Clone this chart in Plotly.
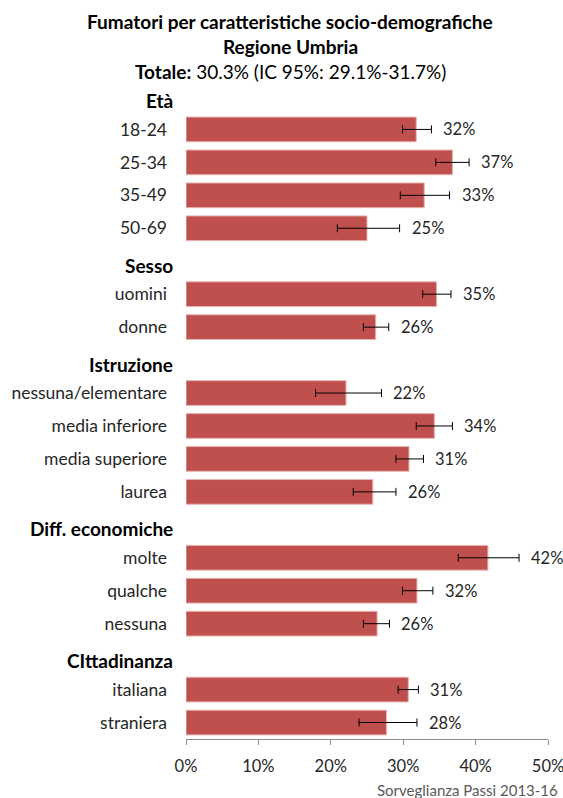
import plotly.graph_objects as go

# ---- data ----
group_names = ["Età", "Sesso", "Istruzione", "Diff. economiche", "CIttadinanza"]
group_sizes = [4, 2, 4, 3, 2]
categories = ["18-24", "25-34", "35-49", "50-69",
              "uomini", "donne",
              "nessuna/elementare", "media inferiore", "media superiore", "laurea",
              "molte", "qualche", "nessuna",
              "italiana", "straniera"]
values = [31.8, 36.8, 32.9, 25.0,
          34.6, 26.2,
          22.1, 34.3, 30.8, 25.8,
          41.7, 31.9, 26.4,
          30.7, 27.7]
ci_low = [29.9, 34.5, 29.6, 20.9,
          32.7, 24.5,
          17.9, 31.8, 29.0, 23.1,
          37.6, 29.9, 24.5,
          29.3, 23.9]
ci_high = [33.9, 39.1, 36.4, 29.5,
           36.6, 28.0,
           27.0, 36.8, 32.8, 29.0,
           46.0, 34.1, 28.1,
           32.1, 31.9]
x_ticks = [0, 10, 20, 30, 40, 50]
x_tick_labels = [f"{t}%" for t in x_ticks]
title_lines = ["<b>Fumatori per caratteristiche socio-demografiche</b>",
               "<b>Regione Umbria</b>",
               "<b>Totale:</b> 30.3% (IC 95%: 29.1%-31.7%)"]
source_text = "Sorveglianza Passi 2013-16"

# ---- slot layout ----
header_slots = []
bar_slots = []
slot = 0
for g, n in zip(group_names, group_sizes):
    header_slots.append(slot)
    slot += 1
    for _ in range(n):
        bar_slots.append(slot)
        slot += 1
n_slots = slot

FONT = "Lato"
BAR = "#C0504D"

fig = go.Figure()
fig.add_trace(go.Bar(
    x=values, y=bar_slots, orientation="h",
    width=0.75,
    marker=dict(color=BAR, line=dict(color="#E9B3B1", width=1)),
    error_x=dict(type="data", symmetric=False,
                 array=[h - v for h, v in zip(ci_high, values)],
                 arrayminus=[v - l for v, l in zip(values, ci_low)],
                 color="#000000", thickness=1, width=4),
    hoverinfo="skip",
))

annotations = []
# value labels
for v, h, s in zip(values, ci_high, bar_slots):
    annotations.append(dict(x=h, y=s, xref="x", yref="y", text=f"{round(v)}%",
                            showarrow=False, xanchor="left", xshift=10,
                            font=dict(family=FONT, size=16.5, color="#262626")))
# group headers
for g, s in zip(group_names, header_slots):
    annotations.append(dict(x=0, y=s, xref="paper", yref="y", text=f"<b>{g}</b>",
                            showarrow=False, xanchor="right", xshift=-11, yshift=-4,
                            font=dict(family=FONT, size=19, color="#000000")))
# title lines
for line, yy in zip(title_lines, [1.0888, 1.0508, 1.0129]):
    annotations.append(dict(x=0.2875, y=yy, xref="paper", yref="paper", text=line,
                            showarrow=False, xanchor="center", yanchor="middle",
                            font=dict(family=FONT, size=19, color="#000000")))
# source
annotations.append(dict(x=1.034, y=-0.078, xref="paper", yref="paper", text=source_text,
                        showarrow=False, xanchor="right", yanchor="middle",
                        font=dict(family=FONT, size=15, color="#595959")))

fig.update_layout(
    width=563, height=798,
    margin=dict(l=186, r=15, t=80, b=59, pad=0, autoexpand=False),
    paper_bgcolor="white", plot_bgcolor="white",
    showlegend=False,
    font=dict(family=FONT, size=17, color="#262626"),
    annotations=annotations,
    bargap=0.25,
)
fig.update_xaxes(range=[0, 50], tickvals=x_ticks, ticktext=x_tick_labels,
                 showgrid=False, zeroline=False, automargin=False,
                 showline=True, linecolor="#8C8C8C", linewidth=1,
                 ticks="outside", ticklen=5, tickcolor="#8C8C8C",
                 ticklabelstandoff=7, ticklabeloverflow="allow",
                 tickfont=dict(family=FONT, size=16.5, color="#262626"),
                 fixedrange=True)
fig.update_yaxes(range=[n_slots - 0.5, -0.5], tickvals=bar_slots, ticktext=categories,
                 showgrid=False, zeroline=False, showline=False, ticks="",
                 automargin=False, ticklabelstandoff=18,
                 tickfont=dict(family=FONT, size=17.5, color="#262626"),
                 fixedrange=True)

# remove the page's default body margin so the 563x798 figure fills the window exactly
fig.write_html("out.html",
               config={"displayModeBar": False},
               post_script="document.body.style.margin='0px';"
                           "document.documentElement.style.overflow='hidden';")
